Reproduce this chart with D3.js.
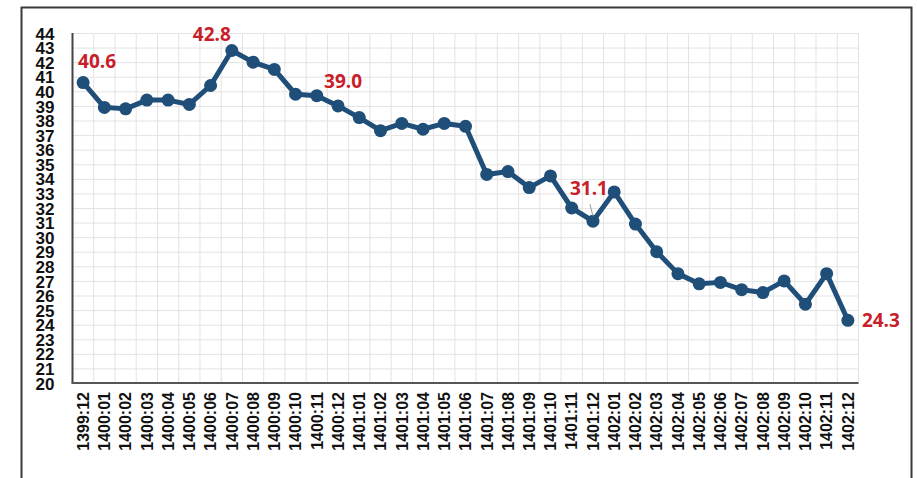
<!DOCTYPE html>
<html>
<head>
<meta charset="utf-8">
<script src="https://cdn.jsdelivr.net/npm/d3@7"></script>
<style>
  body { margin: 0; background: #fff; }
  svg { display: block; font-family: "Open Sans", "Noto Sans", sans-serif; }
  .grid line { stroke: #e3e3e3; stroke-width: 1; }
  .grid .domain { display: none; }
  .yAxis text, .xAxis text { font-weight: 700; fill: #111; }
  .yAxis .domain, .xAxis .domain { display: none; }
  .annot { font-weight: 700; fill: #c8202a; font-size: 19px; }
</style>
</head>
<body>
<div id="chart"></div>
<script>
const months = [
  "1399:12", "1400:01", "1400:02", "1400:03", "1400:04", "1400:05", "1400:06",
  "1400:07", "1400:08", "1400:09", "1400:10", "1400:11", "1400:12",
  "1401:01", "1401:02", "1401:03", "1401:04", "1401:05", "1401:06",
  "1401:07", "1401:08", "1401:09", "1401:10", "1401:11", "1401:12",
  "1402:01", "1402:02", "1402:03", "1402:04", "1402:05", "1402:06",
  "1402:07", "1402:08", "1402:09", "1402:10", "1402:11", "1402:12"
]

const rates = [
  40.6, 38.9, 38.8, 39.4, 39.4, 39.1, 40.4,
  42.8, 42.0, 41.5, 39.8, 39.7, 39.0,
  38.2, 37.3, 37.8, 37.4, 37.8, 37.6,
  34.3, 34.5, 33.4, 34.2, 32.0, 31.1,
  33.1, 30.9, 29.0, 27.5, 26.8, 26.9,
  26.4, 26.2, 27.0, 25.4, 27.5, 24.3
]

const yTickValues = d3.range(20, 45)
const labelled = ["1399:12", "1400:07", "1400:12", "1401:12", "1402:12"]

const width = 917, height = 478
const margin = { top: 33, left: 72.5, right: 58.5, bottom: 95 }

const svg = d3.select('#chart').append('svg')
  .attr('width', width)
  .attr('height', height)

// outer frame
svg.append('rect')
  .attr('x', 21.5).attr('y', 7.5)
  .attr('width', 890).attr('height', 520)
  .attr('fill', 'none')
  .attr('stroke', '#3a3a3a')
  .attr('stroke-width', 2)

const x = d3.scaleBand()
  .domain(months)
  .range([margin.left, width - margin.right])
  .padding(0)

const y = d3.scaleLinear()
  .domain([20, 44])
  .range([height - margin.bottom, margin.top])

const cx = d => x(d) + x.bandwidth() / 2

// horizontal grid
svg.append('g').attr('class', 'grid')
  .attr('transform', `translate(${margin.left},0)`)
  .call(d3.axisLeft(y).tickValues(yTickValues)
    .tickSize(-(width - margin.left - margin.right)).tickFormat(''))

// vertical grid at category boundaries
svg.append('g').attr('class', 'grid')
  .selectAll('line')
  .data(months.slice(1).map(m => x(m)).concat([x.range()[1]]))
  .join('line')
  .attr('x1', d => d).attr('x2', d => d)
  .attr('y1', y(44)).attr('y2', y(20))

// y axis labels
svg.append('g').attr('class', 'yAxis')
  .attr('transform', `translate(${margin.left - 15},0)`)
  .call(d3.axisLeft(y).tickValues(yTickValues).tickSize(0).tickFormat(d3.format('d')))
  .selectAll('text')
  .style('font-size', '17px')
  .attr('dy', '0.36em')

// x axis labels
svg.append('g').attr('class', 'xAxis')
  .attr('transform', `translate(0,${y(20)})`)
  .call(d3.axisBottom(x).tickSize(0))
  .selectAll('text')
  .style('font-size', '16px')
  .attr('text-anchor', 'end')
  .attr('transform', 'rotate(-90)')
  .attr('x', -9)
  .attr('y', 0)
  .attr('dy', '0.36em')

// axis lines
svg.append('line')
  .attr('x1', margin.left).attr('x2', margin.left)
  .attr('y1', y(44)).attr('y2', y(20))
  .attr('stroke', '#444').attr('stroke-width', 2)

svg.append('line')
  .attr('x1', margin.left - 1).attr('x2', x.range()[1])
  .attr('y1', y(20)).attr('y2', y(20))
  .attr('stroke', '#555').attr('stroke-width', 2)

const points = months.map((m, i) => ({ month: m, value: rates[i] }))

svg.append('path')
  .datum(points)
  .attr('fill', 'none')
  .attr('stroke', '#1f4e79')
  .attr('stroke-width', 5)
  .attr('stroke-linejoin', 'round')
  .attr('d', d3.line().x(d => cx(d.month)).y(d => y(d.value)))

svg.append('g')
  .selectAll('circle')
  .data(points)
  .join('circle')
  .attr('cx', d => cx(d.month))
  .attr('cy', d => y(d.value))
  .attr('r', 6.5)
  .attr('fill', '#1f4e79')

// value annotations
const place = {
  "1399:12": { dx: -5, dy: -15, anchor: 'start' },
  "1400:07": { dx: -20, dy: -10, anchor: 'middle' },
  "1400:12": { dx: 5, dy: -18, anchor: 'middle' },
  "1401:12": { dx: -4, dy: -26, anchor: 'middle' },
  "1402:12": { dx: 14, dy: 7, anchor: 'start' }
}

const annotated = points.filter(d => labelled.includes(d.month))

svg.append('g')
  .selectAll('text')
  .data(annotated)
  .join('text')
  .attr('class', 'annot')
  .attr('x', d => cx(d.month) + place[d.month].dx)
  .attr('y', d => y(d.value) + place[d.month].dy)
  .attr('text-anchor', d => place[d.month].anchor)
  .text(d => d.value.toFixed(1))

// leader line for 31.1
const lead = points.find(d => d.month === "1401:12")
svg.append('line')
  .attr('x1', cx(lead.month) - 3).attr('y1', y(lead.value) - 17)
  .attr('x2', cx(lead.month)).attr('y2', y(lead.value) - 5)
  .attr('stroke', '#999').attr('stroke-width', 1)
</script>
</body>
</html>
